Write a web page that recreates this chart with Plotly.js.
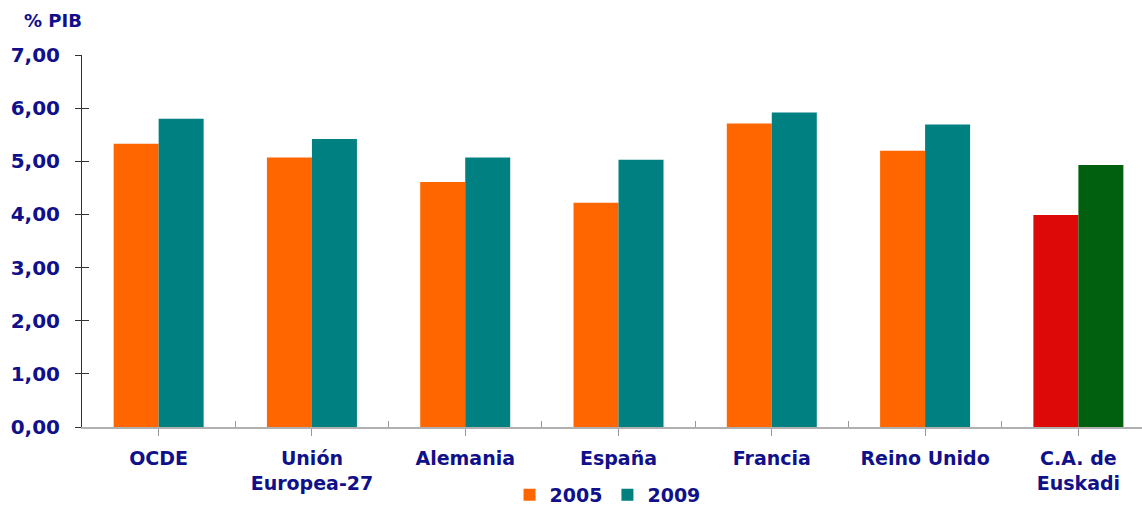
<!DOCTYPE html>
<html>
<head>
<meta charset="utf-8">
<script src="https://cdn.plot.ly/plotly-3.0.1.min.js"></script>
<style>html,body{margin:0;padding:0;background:#fff;}#chart{width:1142px;height:506px;}</style>
</head>
<body>
<div id="chart"></div>
<script>
const categories = ["OCDE", "Unión<br>Europea-27", "Alemania", "España", "Francia", "Reino Unido", "C.A. de<br>Euskadi"];
const values2005 = [5.33, 5.07, 4.61, 4.22, 5.71, 5.20, 3.99];
const values2009 = [5.80, 5.42, 5.07, 5.03, 5.92, 5.69, 4.93];
const colors2005 = ["#FF6600", "#FF6600", "#FF6600", "#FF6600", "#FF6600", "#FF6600", "#DD0808"];
const colors2009 = ["#008080", "#008080", "#008080", "#008080", "#008080", "#008080", "#006010"];
const seriesNames = ["2005", "2009"];
const yTitle = "% PIB";

const navy = "#10108a";
const fontFam = "Verdana, 'DejaVu Sans', sans-serif";
const idx = categories.map((c, i) => i);

const traces = [
  {type: "bar", name: seriesNames[0], x: idx, y: values2005, marker: {color: colors2005}, hoverinfo: "y"},
  {type: "bar", name: seriesNames[1], x: idx, y: values2009, marker: {color: colors2009}, hoverinfo: "y"},
  // invisible helper trace on overlay axes (for crossing tick marks)
  {type: "scatter", mode: "none", x: [0], y: [0], xaxis: "x2", yaxis: "y2", showlegend: false, hoverinfo: "skip"}
];

const xr = [-0.5, 6.415];
const yr = [0, 7];

const layout = {
  width: 1142, height: 506,
  margin: {l: 82, r: 0, t: 55, b: 79, autoexpand: false},
  paper_bgcolor: "#fff", plot_bgcolor: "#fff",
  barmode: "group", bargap: 0.413, bargroupgap: 0,
  separators: ",.",
  font: {family: fontFam, color: navy, size: 19},
  showlegend: true,
  legend: {orientation: "h", xref: "container", yref: "container", x: 0.532, xanchor: "center", y: 0.022, yanchor: "middle",
           bgcolor: "rgba(0,0,0,0)",
           font: {family: fontFam, size: 19, color: navy, weight: "bold"}, itemwidth: 30, tracegroupgap: 0},
  xaxis: {
    range: xr, tickmode: "array", tickvals: idx, ticktext: categories, automargin: false,
    tickson: "boundaries", ticks: "outside", ticklen: 7, tickcolor: "#999", tickwidth: 1,
    showline: true, linecolor: "#b0b0b0", linewidth: 2, showgrid: false, zeroline: false,
    tickfont: {family: fontFam, size: 19, color: navy, weight: "bold"}, ticklabelstandoff: 6
  },
  yaxis: {
    range: yr, dtick: 1, tickformat: ".2f", ticks: "outside", ticklen: 6, tickcolor: "#333", tickwidth: 1,
    automargin: false,
    showline: true, linecolor: "#333", linewidth: 1, showgrid: false, zeroline: false,
    tickfont: {family: fontFam, size: 20, color: navy, weight: "bold"}, ticklabelstandoff: 11
  },
  xaxis2: {
    overlaying: "x", range: xr, tickmode: "array", tickvals: [0.5, 1.5, 2.5, 3.5, 4.5, 5.5],
    ticks: "inside", ticklen: 6, tickcolor: "#999", showticklabels: false, showline: false,
    showgrid: false, zeroline: false, side: "bottom", automargin: false
  },
  yaxis2: {
    overlaying: "y", range: yr, dtick: 1, ticks: "inside", ticklen: 7, tickcolor: "#333",
    showticklabels: false, showline: false, showgrid: false, zeroline: false, side: "left", automargin: false
  },
  annotations: [{
    text: yTitle, xref: "paper", yref: "paper", x: -0.057, y: 1, xanchor: "left", yanchor: "middle",
    yshift: 35, showarrow: false, font: {family: fontFam, size: 18, color: navy, weight: "bold"}
  }]
};

Plotly.newPlot("chart", traces, layout, {displayModeBar: false, staticPlot: true});
</script>
</body>
</html>
